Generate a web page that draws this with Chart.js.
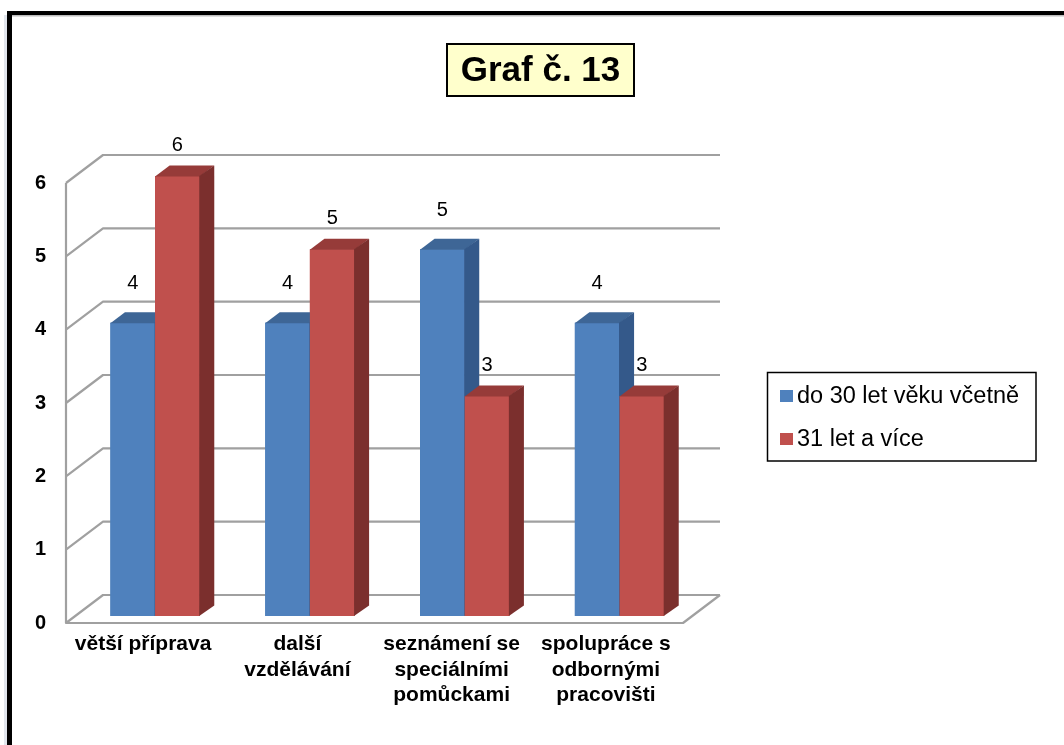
<!DOCTYPE html>
<html>
<head>
<meta charset="utf-8">
<title>Graf č. 13</title>
<script src="https://cdn.jsdelivr.net/npm/chart.js@4.4.1/dist/chart.umd.min.js"></script>
<style>
  html, body { margin: 0; padding: 0; background: #fff; }
  canvas { display: block; }
</style>
</head>
<body>
<canvas id="chart" width="1064" height="745"></canvas>
<script>
// --- data ---------------------------------------------------------------
const categories = [
  'větší příprava',
  ['další', 'vzdělávání'],
  ['seznámení se', 'speciálními', 'pomůckami'],
  ['spolupráce s', 'odbornými', 'pracovišti']
];
const seriesNames = ['do 30 let věku včetně', '31 let a více'];
const valuesUpTo30 = [4, 4, 5, 4];
const values31Plus = [6, 5, 3, 3];
const yAxisMin = 0;
const yAxisMax = 6;
const yAxisStep = 1;
const chartTitle = 'Graf č. 13';

// --- styling ------------------------------------------------------------
const FONT = '"Liberation Sans", Arial, Helvetica, sans-serif';
const faceColors = [
  { front: '#4F81BD', top: '#3E6696', side: '#34598A' },
  { front: '#C0504D', top: '#963B39', side: '#7B2F2D' }
];
const WALL = { dx: 37, dy: -28 };              // back wall offset from the front plane
const BAR_PLANE = { tx: 11.4, ty: -7, sx: 1.0037 }; // bars stand a little behind the front plane
const BAR_DEPTH = { dx: 14.5, dy: -10.5 };     // visible depth of each bar
const LABEL_LIFT = [39, 31];                   // value label distance above bar top, per series

function fillPoly(ctx, pts) {
  ctx.beginPath();
  ctx.moveTo(pts[0][0], pts[0][1]);
  for (let i = 1; i < pts.length; i++) ctx.lineTo(pts[i][0], pts[i][1]);
  ctx.closePath();
  ctx.fill();
}

// Frame, title box and legend box around the plot
const decorations = {
  id: 'decorations',
  beforeDraw(chart) {
    const ctx = chart.ctx;
    ctx.save();
    ctx.fillStyle = '#fff';
    ctx.fillRect(0, 0, chart.width, chart.height);

    // page frame
    ctx.fillStyle = 'rgba(190,200,215,0.45)';
    ctx.fillRect(4, 15, 3, chart.height - 15);
    ctx.fillStyle = '#BDBDBD';
    ctx.fillRect(12, 15, chart.width - 12, 1.5);
    ctx.fillStyle = '#000';
    ctx.fillRect(7, 11, chart.width - 7, 4);
    ctx.fillRect(7, 11, 5, chart.height - 11);

    // title
    ctx.fillStyle = '#FFFFCC';
    ctx.fillRect(447, 44, 187, 52);
    ctx.strokeStyle = '#000';
    ctx.lineWidth = 2;
    ctx.strokeRect(447, 44, 187, 52);
    ctx.fillStyle = '#000';
    ctx.font = `bold 35px ${FONT}`;
    ctx.textAlign = 'center';
    ctx.textBaseline = 'middle';
    ctx.fillText(chartTitle, 540.5, 71);

    // legend
    ctx.lineWidth = 1.5;
    ctx.strokeRect(767.5, 372.5, 268.5, 88.5);
    ctx.font = `23.5px ${FONT}`;
    ctx.textAlign = 'left';
    chart.data.datasets.forEach((ds, i) => {
      const cy = 396 + i * 43;
      ctx.fillStyle = ds.backgroundColor;
      ctx.fillRect(780, cy - 6, 13, 12);
      ctx.fillStyle = '#000';
      ctx.fillText(ds.label, 797, cy + 1);
    });
    ctx.restore();
  }
};

// Walls, floor and 3D bar faces
const perspective = {
  id: 'perspective',
  beforeDatasetsDraw(chart) {
    const { ctx, chartArea: a, scales: { y } } = chart;
    ctx.save();
    ctx.strokeStyle = '#A0A0A0';
    ctx.lineWidth = 2.2;
    ctx.lineJoin = 'round';
    ctx.beginPath();
    for (let v = yAxisMin; v <= yAxisMax; v += yAxisStep) {
      const py = y.getPixelForValue(v);
      ctx.moveTo(a.left, py);
      ctx.lineTo(a.left + WALL.dx, py + WALL.dy);
      ctx.lineTo(a.right + WALL.dx, py + WALL.dy);
    }
    const p0 = y.getPixelForValue(yAxisMin);
    ctx.moveTo(a.left, y.getPixelForValue(yAxisMax));
    ctx.lineTo(a.left, p0);
    ctx.lineTo(a.right, p0);
    ctx.lineTo(a.right + WALL.dx, p0 + WALL.dy);
    ctx.stroke();
    ctx.restore();

    ctx.save();
    ctx.translate(BAR_PLANE.tx, BAR_PLANE.ty);
    ctx.scale(BAR_PLANE.sx, 1);
  },
  afterDatasetsDraw(chart) {
    const ctx = chart.ctx;
    const metas = chart.data.datasets.map((d, i) => chart.getDatasetMeta(i));
    const n = chart.data.labels.length;
    const { dx, dy } = BAR_DEPTH;
    for (let i = 0; i < n; i++) {
      metas.forEach((meta, di) => {
        const el = meta.data[i];
        const { x, y, base, width } = el.getProps(['x', 'y', 'base', 'width'], true);
        const l = x - width / 2, r = x + width / 2;
        const c = faceColors[di];
        ctx.fillStyle = c.front;
        ctx.fillRect(l, y, width, base - y);
        ctx.fillStyle = c.top;
        fillPoly(ctx, [[l, y + 0.5], [r, y + 0.5], [r + dx, y + dy], [l + dx, y + dy]]);
        ctx.fillStyle = c.side;
        fillPoly(ctx, [[r - 0.5, y], [r + dx, y + dy], [r + dx, base + dy], [r - 0.5, base]]);
      });
    }
    ctx.fillStyle = '#000';
    ctx.font = `20px ${FONT}`;
    ctx.textAlign = 'center';
    ctx.textBaseline = 'middle';
    metas.forEach((meta, di) => {
      meta.data.forEach((el, i) => {
        ctx.fillText(String(chart.data.datasets[di].data[i]), el.x, el.y - LABEL_LIFT[di]);
      });
    });
    ctx.restore();
  }
};

new Chart(document.getElementById('chart'), {
  type: 'bar',
  data: {
    labels: categories,
    datasets: [
      { label: seriesNames[0], data: valuesUpTo30, backgroundColor: faceColors[0].front },
      { label: seriesNames[1], data: values31Plus, backgroundColor: faceColors[1].front }
    ]
  },
  options: {
    responsive: false,
    animation: false,
    devicePixelRatio: 1,
    layout: { padding: { left: 16, right: 381, top: 183, bottom: 0 } },
    datasets: {
      bar: { barPercentage: 1, categoryPercentage: 0.577, borderWidth: 0, clip: false }
    },
    plugins: {
      legend: { display: false },
      title: { display: false },
      tooltip: { enabled: false }
    },
    scales: {
      x: {
        grid: { display: false, drawTicks: false },
        border: { display: false },
        ticks: {
          color: '#000',
          font: { family: FONT, size: 21, weight: 'bold', lineHeight: 1.2 },
          padding: 9,
          maxRotation: 0,
          minRotation: 0,
          autoSkip: false
        },
        afterFit(scale) { scale.height = 122; }
      },
      y: {
        min: yAxisMin,
        max: yAxisMax,
        grid: { display: false, drawTicks: false },
        border: { display: false },
        ticks: {
          stepSize: yAxisStep,
          color: '#000',
          font: { family: FONT, size: 20, weight: 'bold' },
          padding: 20
        },
        afterFit(scale) { scale.width = 50; }
      }
    }
  },
  plugins: [decorations, perspective]
});
</script>
</body>
</html>
